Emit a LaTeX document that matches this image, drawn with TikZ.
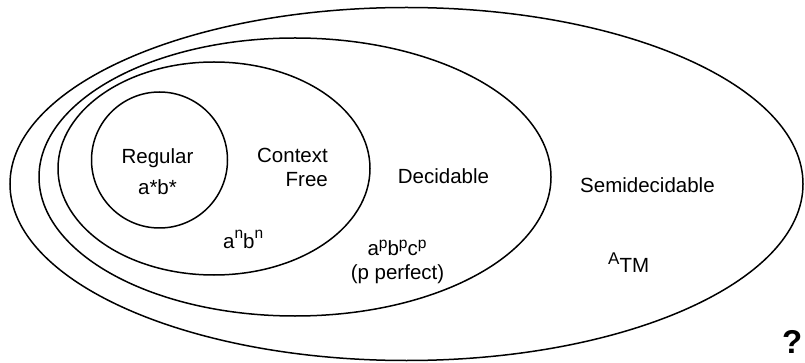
\documentclass[tikz,border=0pt]{standalone}
\usepackage{fontspec}
\setmainfont{Liberation Sans}
\newcommand\supn[1]{\raisebox{0.48em}{\fontsize{15.5}{17}\selectfont #1}}
\newcommand\supp[1]{\raisebox{0.32em}{\fontsize{15.5}{17}\selectfont #1}}
\begin{document}
\begin{tikzpicture}[x=1pt,y=-1pt,
  setline/.style={line width=1.5pt,black},
  lbl/.style={inner sep=0pt,font=\fontsize{20.5}{24}\selectfont}]
\useasboundingbox (0,0) rectangle (805,363);
% sets
\draw[setline] (406.5,184) ellipse [x radius=396.5,y radius=176.5];
\draw[setline] (295,177) ellipse [x radius=256,y radius=139];
\draw[setline] (214,168.5) ellipse [x radius=156,y radius=106.5];
\draw[setline] (159.5,160) circle [radius=68];
% labels
\node[lbl,anchor=base] (reg) at (157.5,164) {Regular};
\node[lbl,anchor=base] (ab) at (157.5,195) {a*b*};
\node[lbl,anchor=base east] (cf1) at (328,163) {Context};
\node[lbl,anchor=base east] (cf2) at (328,187) {Free};
\node[lbl,anchor=base west] (anbn) at (223,248) {a\supn{n}b\supn{n}};
\node[lbl,anchor=base] (dec) at (443.5,184) {Decidable};
\node[lbl,anchor=base] (apbpcp) at (397,255) {a\supp{p}b\supp{p}c\supp{p}};
\node[lbl,anchor=base] (pperf) at (397.5,279) {(p perfect)};
\node[lbl,anchor=base west] (semi) at (580,193) {Semidecidable};
\node[inner sep=0pt,anchor=base west] (atm) at (608,264) {{\fontsize{17}{19}\selectfont A}\raisebox{-9pt}{\fontsize{20.5}{22}\selectfont TM}};
\node[inner sep=0pt,anchor=base west,font=\fontsize{33}{36}\selectfont\bfseries] (q) at (782,353) {?};
\end{tikzpicture}
\end{document}
